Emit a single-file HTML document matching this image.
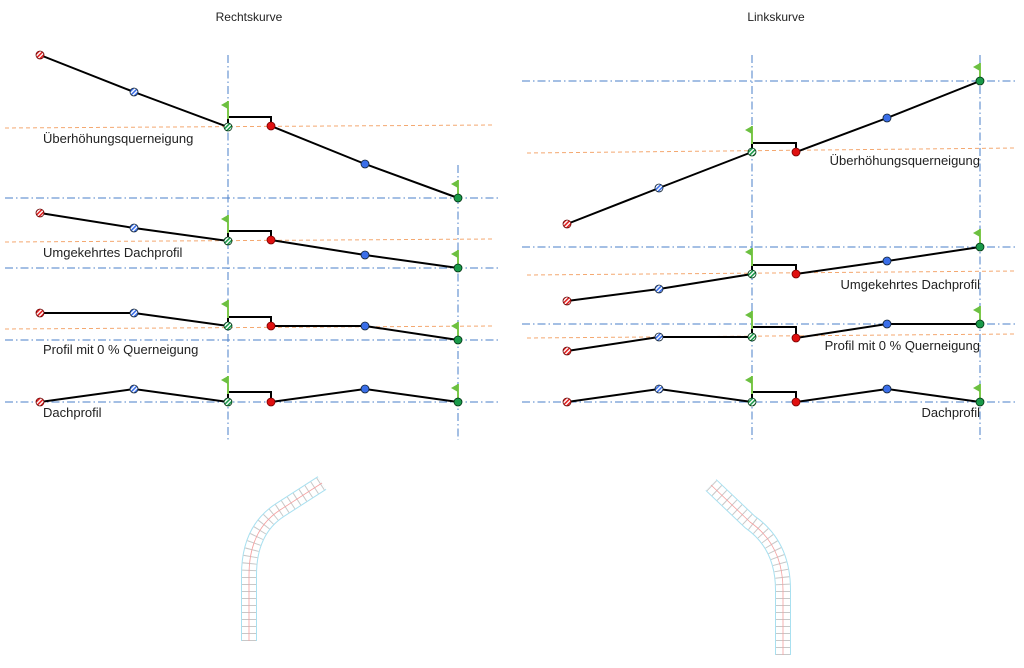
<!DOCTYPE html>
<html><head><meta charset="utf-8"><style>
body{margin:0;background:#fff;width:1024px;height:668px;overflow:hidden}
svg{display:block}
text{font-family:"Liberation Sans","DejaVu Sans",sans-serif;font-size:13px;fill:#222}
text.t{font-size:12px}
</style></head><body>
<svg id="s" width="1024" height="668" xmlns="http://www.w3.org/2000/svg">
<defs>
<pattern id="hr" width="3" height="3" patternUnits="userSpaceOnUse" patternTransform="rotate(45)"><rect width="3" height="3" fill="#fff"/><rect width="1.6" height="3" fill="#e02020"/></pattern>
<pattern id="hb" width="3" height="3" patternUnits="userSpaceOnUse" patternTransform="rotate(45)"><rect width="3" height="3" fill="#fff"/><rect width="1.6" height="3" fill="#3a6ee8"/></pattern>
<pattern id="hg" width="3" height="3" patternUnits="userSpaceOnUse" patternTransform="rotate(45)"><rect width="3" height="3" fill="#fff"/><rect width="1.6" height="3" fill="#1a9a4a"/></pattern>
</defs>
<g id="bg"></g>
<g id="fg"></g>
<text class="t" x="249" y="21" text-anchor="middle">Rechtskurve</text>
<text class="t" x="776" y="21" text-anchor="middle">Linkskurve</text>
<text x="43" y="143">Überhöhungsquerneigung</text>
<text x="43" y="257">Umgekehrtes Dachprofil</text>
<text x="43" y="354">Profil mit 0 % Querneigung</text>
<text x="43" y="417">Dachprofil</text>
<text x="980" y="165" text-anchor="end">Überhöhungsquerneigung</text>
<text x="980" y="289" text-anchor="end">Umgekehrtes Dachprofil</text>
<text x="980" y="350" text-anchor="end">Profil mit 0 % Querneigung</text>
<text x="980" y="417" text-anchor="end">Dachprofil</text>
</svg>
<script>
const NS="http://www.w3.org/2000/svg",bg=document.getElementById('bg'),fg=document.getElementById('fg');
function el(p,t,a){const e=document.createElementNS(NS,t);for(const k in a)e.setAttribute(k,a[k]);p.appendChild(e);return e;}
function dd(x1,y1,x2,y2){el(bg,'line',{x1,y1,x2,y2,stroke:'#4a7fc8','stroke-width':1,'stroke-dasharray':'8,3,1.5,3'});}
function od(x1,y1,x2,y2){el(bg,'line',{x1,y1,x2,y2,stroke:'#f4a870','stroke-width':1,'stroke-dasharray':'4,3'});}
function flag(x,y){el(fg,'line',{x1:x,y1:y-18,x2:x,y2:y,stroke:'#7cc84a','stroke-width':2});
 el(fg,'polygon',{points:`${x},${y-18} ${x-7},${y-14} ${x},${y-10}`,fill:'#6cc040'});}
function row(xs,ys,top,orange,blue){
 const [a,b,c,d,e,f]=xs,[A,B,C,D,E,F]=ys;
 od(orange[0],orange[1],orange[2],orange[3]);
 dd(blue[0],blue[1],blue[2],blue[1]);
 el(fg,'polyline',{points:`${a},${A} ${b},${B} ${c},${C} ${c},${top} ${d},${top} ${d},${D} ${e},${E} ${f},${F}`,fill:'none',stroke:'#000','stroke-width':2});
 flag(c,C-8);flag(f,F);
 const m=[[a,A,'url(#hr)','#600'],[b,B,'url(#hb)','#123'],[c,C,'url(#hg)','#031'],[d,D,'#e01010','#700'],[e,E,'#3a6ee8','#123'],[f,F,'#1a9a4a','#031']];
 for(const [x,y,fl,st] of m) el(fg,'circle',{cx:x,cy:y,r:4,fill:fl,stroke:st,'stroke-width':0.8});
}
dd(228,55,228,440);dd(458,165,458,440);dd(752,55,752,440);dd(980,55,980,440);
const L=[40,134,228,271,365,458],R=[567,659,752,796,887,980];
row(L,[55,92,127,126,164,198],117,[5,128,493,125],[5,198,498]);
row(L,[213,228,241,240,255,268],231,[5,242,493,239],[5,268,498]);
row(L,[313,313,326,326,326,340],317,[5,329,493,326],[5,340,498]);
row(L,[402,389,402,402,389,402],392,[5,402,5,402],[5,402,498]);
row(R,[224,188,152,152,118,81],143,[527,153,1015,148],[522,81,1015]);
row(R,[301,289,274,274,261,247],265,[527,275,1015,271],[522,247,1015]);
row(R,[351,337,337,338,324,324],327,[527,338,1015,334],[522,324,1015]);
row(R,[402,389,402,402,389,402],392,[527,402,527,402],[522,402,1015]);
function road(d){
 el(bg,'path',{d,fill:'none',stroke:'#a8e0f0','stroke-width':16});
 el(bg,'path',{d,fill:'none',stroke:'#fff','stroke-width':14});
 el(bg,'path',{d,fill:'none',stroke:'#c8c8c8','stroke-width':14,'stroke-dasharray':'1,6'});
 el(bg,'path',{d,fill:'none',stroke:'#f4a0a0','stroke-width':0.8});
}
road('M249,641 L249,575 Q249,530 280,510 L322,483');
road('M783,655 L783,590 Q783,545 750,522 L711,485');
</script>
</body></html>
